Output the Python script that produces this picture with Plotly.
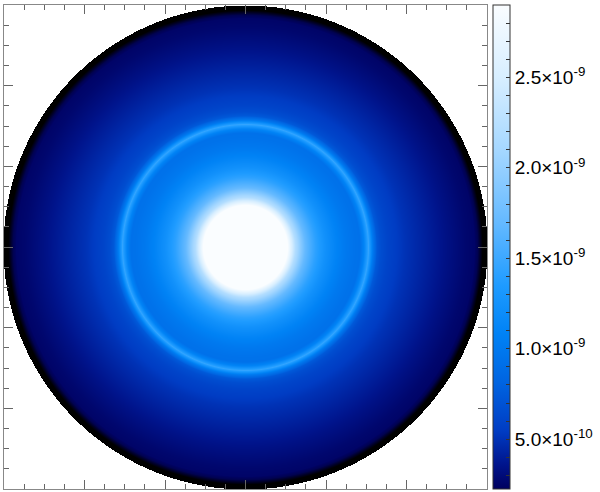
import numpy as np
import plotly.graph_objects as go

# radial intensity profile (radius in axis units, disk edge = 3)
profile_r = [0.0, 0.37, 0.47, 0.53, 0.62, 0.74, 0.87, 0.99, 1.12, 1.24, 1.36, 1.42,
             1.47, 1.525, 1.58, 1.63, 1.68, 1.76, 1.98, 2.23, 2.48, 2.73, 3.0]
profile_val = [8.0e-9, 4.0e-9, 3.2e-9, 2.85e-9, 2.2e-9, 1.7e-9, 1.42e-9, 1.24e-9, 1.1e-9,
               1.0e-9, 0.94e-9, 0.93e-9, 1.1e-9, 1.45e-9, 1.0e-9, 0.74e-9, 0.66e-9,
               0.6e-9, 0.5e-9, 0.42e-9, 0.34e-9, 0.27e-9, 0.22e-9]

# dark limb opacity vs radius
limb_r = [2.84, 2.88, 2.91, 2.94, 3.0]
limb_alpha = [0.0, 0.2, 0.6, 1.0, 1.0]

cbar_vals = [5e-10, 1e-9, 1.5e-9, 2e-9, 2.5e-9]
cbar_text = ["5.0×10<sup>-10</sup>", "1.0×10<sup>-9</sup>", "1.5×10<sup>-9</sup>",
             "2.0×10<sup>-9</sup>", "2.5×10<sup>-9</sup>"]
zmin, zmax = 2.25e-10, 2.9e-9

blues = [
    [0.00, "rgb(0,0,95)"],
    [0.05, "rgb(0,20,140)"],
    [0.12, "rgb(0,60,195)"],
    [0.22, "rgb(0,100,225)"],
    [0.32, "rgb(0,130,245)"],
    [0.42, "rgb(30,155,255)"],
    [0.55, "rgb(100,185,255)"],
    [0.70, "rgb(165,215,255)"],
    [0.85, "rgb(215,238,255)"],
    [1.00, "rgb(250,253,255)"],
]

n = 485
xs = np.linspace(-3, 3, n)
X, Y = np.meshgrid(xs, xs)
R = np.hypot(X, Y)
inside = R <= 3.0

z = np.interp(R, profile_r, profile_val).astype(np.float32)
z[~inside] = np.nan

limb = np.interp(R, limb_r, limb_alpha).astype(np.float32)
limb[(~inside) | (R < limb_r[0])] = np.nan

# minor ticks on the colorbar every 1e-10, labels only on the majors
cb_tickvals = [k * 1e-10 for k in range(3, 29)]
cb_ticktext = []
for v in cb_tickvals:
    lab = ""
    for cv, ct in zip(cbar_vals, cbar_text):
        if abs(v - cv) < 1e-12:
            lab = ct
    cb_ticktext.append(lab)

fig = go.Figure()
fig.add_trace(go.Heatmap(
    x=xs, y=xs, z=z, zmin=zmin, zmax=zmax, colorscale=blues,
    hoverinfo="skip",
    colorbar=dict(
        x=1.0103, xanchor="left", xpad=0, ypad=0,
        y=0.5, len=1, thickness=17,
        outlinecolor="#333", outlinewidth=1,
        ticks="inside", ticklen=4, tickcolor="#333",
        tickvals=cb_tickvals, ticktext=cb_ticktext,
        tickfont=dict(family="Liberation Sans, Arial, sans-serif", size=19, color="black"),
    ),
))
fig.add_trace(go.Heatmap(
    x=xs, y=xs, z=limb, zmin=0, zmax=1,
    colorscale=[[0, "rgba(0,0,0,0)"], [1, "rgba(0,0,0,1)"]],
    showscale=False, hoverinfo="skip",
))

axis_style = dict(
    range=[-3, 3], showline=True, linecolor="#888", linewidth=1, mirror="allticks",
    ticks="inside", ticklen=9, tickcolor="#666", dtick=1, tick0=0,
    showticklabels=False, showgrid=False, zeroline=False,
    minor=dict(ticks="inside", ticklen=5, tickcolor="#666", dtick=0.25, showgrid=False),
)
fig.update_xaxes(**axis_style)
fig.update_yaxes(**axis_style)

fig.update_layout(
    width=600, height=492,
    margin=dict(l=4, r=112, t=5, b=3),
    plot_bgcolor="white", paper_bgcolor="white",
    showlegend=False,
)

fig.write_html("out.html", config={"displayModeBar": False},
               post_script="document.body.style.margin='0';")
